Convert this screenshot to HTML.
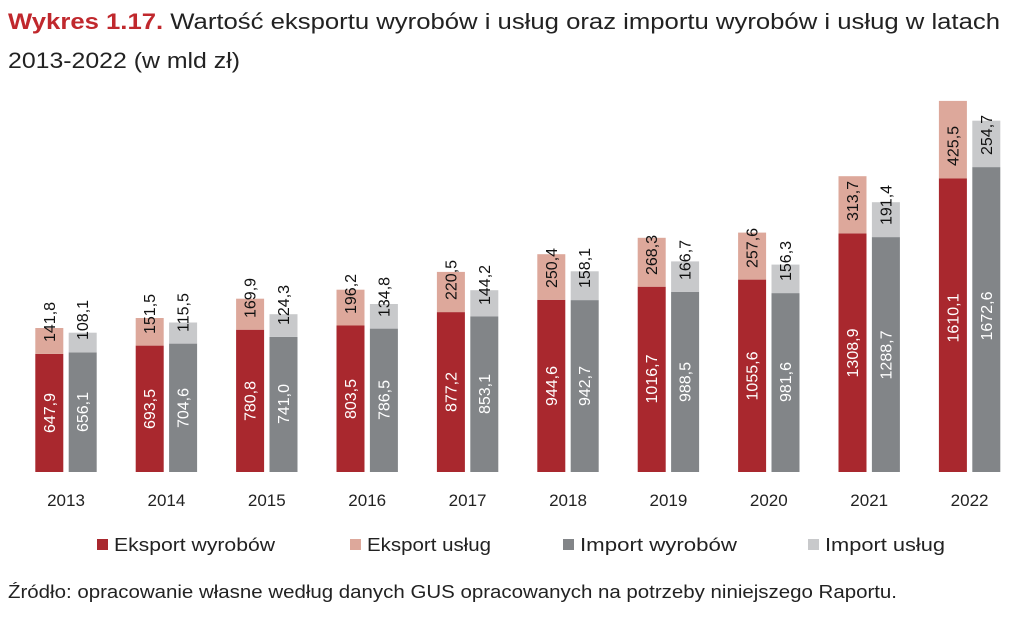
<!DOCTYPE html>
<html><head><meta charset="utf-8"><style>
body{margin:0;background:#fff;width:1024px;height:628px;overflow:hidden;font-family:"Liberation Sans",sans-serif}
.w{fill:#fff;font-size:16px;text-anchor:middle}
.k{fill:#111;font-size:16px;text-anchor:start}
.y{fill:#222;font-size:17px;text-anchor:middle}
</style></head><body>
<svg width="1024" height="628" xmlns="http://www.w3.org/2000/svg" font-family="Liberation Sans, sans-serif">
<text x="8" y="29" font-size="22" fill="#222" textLength="992" lengthAdjust="spacingAndGlyphs"><tspan fill="#C0282D" font-weight="bold">Wykres 1.17.</tspan> Wartość eksportu wyrobów i usług oraz importu wyrobów i usług w latach</text>
<text x="8" y="68" font-size="22" fill="#222" textLength="232" lengthAdjust="spacingAndGlyphs">2013-2022 (w mld zł)</text>

<rect x="35.3" y="353.9" width="28" height="118.1" fill="#A9282E"/><rect x="35.3" y="328.0" width="28" height="25.9" fill="#DDA89B"/>
<rect x="68.7" y="352.4" width="28" height="119.6" fill="#828588"/><rect x="68.7" y="332.7" width="28" height="19.7" fill="#C8C9CB"/>
<text class="w" transform="translate(54.8,413) rotate(-90)">647,9</text><text class="k" transform="translate(54.8,342) rotate(-90)">141,8</text>
<text class="w" transform="translate(88.2,412) rotate(-90)">656,1</text><text class="k" transform="translate(88.2,340) rotate(-90)">108,1</text>
<text class="y" x="66" y="506">2013</text>
<rect x="135.7" y="345.6" width="28" height="126.4" fill="#A9282E"/><rect x="135.7" y="318.0" width="28" height="27.6" fill="#DDA89B"/>
<rect x="169.1" y="343.6" width="28" height="128.4" fill="#828588"/><rect x="169.1" y="322.5" width="28" height="21.1" fill="#C8C9CB"/>
<text class="w" transform="translate(155.2,409) rotate(-90)">693,5</text><text class="k" transform="translate(155.2,334) rotate(-90)">151,5</text>
<text class="w" transform="translate(188.6,408) rotate(-90)">704,6</text><text class="k" transform="translate(188.6,332) rotate(-90)">115,5</text>
<text class="y" x="166.4" y="506">2014</text>
<rect x="236.1" y="329.7" width="28" height="142.3" fill="#A9282E"/><rect x="236.1" y="298.7" width="28" height="31.0" fill="#DDA89B"/>
<rect x="269.5" y="336.9" width="28" height="135.1" fill="#828588"/><rect x="269.5" y="314.2" width="28" height="22.7" fill="#C8C9CB"/>
<text class="w" transform="translate(255.6,401) rotate(-90)">780,8</text><text class="k" transform="translate(255.6,318) rotate(-90)">169,9</text>
<text class="w" transform="translate(289,404) rotate(-90)">741,0</text><text class="k" transform="translate(289,325) rotate(-90)">124,3</text>
<text class="y" x="266.8" y="506">2015</text>
<rect x="336.5" y="325.5" width="28" height="146.5" fill="#A9282E"/><rect x="336.5" y="289.7" width="28" height="35.8" fill="#DDA89B"/>
<rect x="369.9" y="328.6" width="28" height="143.4" fill="#828588"/><rect x="369.9" y="304.0" width="28" height="24.6" fill="#C8C9CB"/>
<text class="w" transform="translate(356,399) rotate(-90)">803,5</text><text class="k" transform="translate(356,314) rotate(-90)">196,2</text>
<text class="w" transform="translate(389.4,400) rotate(-90)">786,5</text><text class="k" transform="translate(389.4,317) rotate(-90)">134,8</text>
<text class="y" x="367.2" y="506">2016</text>
<rect x="436.9" y="312.1" width="28" height="159.9" fill="#A9282E"/><rect x="436.9" y="271.9" width="28" height="40.2" fill="#DDA89B"/>
<rect x="470.3" y="316.5" width="28" height="155.5" fill="#828588"/><rect x="470.3" y="290.2" width="28" height="26.3" fill="#C8C9CB"/>
<text class="w" transform="translate(456.4,392) rotate(-90)">877,2</text><text class="k" transform="translate(456.4,300) rotate(-90)">220,5</text>
<text class="w" transform="translate(489.8,394) rotate(-90)">853,1</text><text class="k" transform="translate(489.8,305) rotate(-90)">144,2</text>
<text class="y" x="467.6" y="506">2017</text>
<rect x="537.3" y="299.8" width="28" height="172.2" fill="#A9282E"/><rect x="537.3" y="254.2" width="28" height="45.6" fill="#DDA89B"/>
<rect x="570.7" y="300.1" width="28" height="171.9" fill="#828588"/><rect x="570.7" y="271.3" width="28" height="28.8" fill="#C8C9CB"/>
<text class="w" transform="translate(556.8,386) rotate(-90)">944,6</text><text class="k" transform="translate(556.8,288) rotate(-90)">250,4</text>
<text class="w" transform="translate(590.2,386) rotate(-90)">942,7</text><text class="k" transform="translate(590.2,288) rotate(-90)">158,1</text>
<text class="y" x="568" y="506">2018</text>
<rect x="637.7" y="286.7" width="28" height="185.3" fill="#A9282E"/><rect x="637.7" y="237.8" width="28" height="48.9" fill="#DDA89B"/>
<rect x="671.1" y="291.8" width="28" height="180.2" fill="#828588"/><rect x="671.1" y="261.4" width="28" height="30.4" fill="#C8C9CB"/>
<text class="w" transform="translate(657.2,379) rotate(-90)">1016,7</text><text class="k" transform="translate(657.2,275) rotate(-90)">268,3</text>
<text class="w" transform="translate(690.6,382) rotate(-90)">988,5</text><text class="k" transform="translate(690.6,280) rotate(-90)">166,7</text>
<text class="y" x="668.4" y="506">2019</text>
<rect x="738.1" y="279.6" width="28" height="192.4" fill="#A9282E"/><rect x="738.1" y="232.6" width="28" height="47.0" fill="#DDA89B"/>
<rect x="771.5" y="293.1" width="28" height="178.9" fill="#828588"/><rect x="771.5" y="264.6" width="28" height="28.5" fill="#C8C9CB"/>
<text class="w" transform="translate(757.6,376) rotate(-90)">1055,6</text><text class="k" transform="translate(757.6,268) rotate(-90)">257,6</text>
<text class="w" transform="translate(791,382) rotate(-90)">981,6</text><text class="k" transform="translate(791,281) rotate(-90)">156,3</text>
<text class="y" x="768.8" y="506">2020</text>
<rect x="838.5" y="233.4" width="28" height="238.6" fill="#A9282E"/><rect x="838.5" y="176.2" width="28" height="57.2" fill="#DDA89B"/>
<rect x="871.9" y="237.1" width="28" height="234.9" fill="#828588"/><rect x="871.9" y="202.2" width="28" height="34.9" fill="#C8C9CB"/>
<text class="w" transform="translate(858,353) rotate(-90)">1308,9</text><text class="k" transform="translate(858,221) rotate(-90)">313,7</text>
<text class="w" transform="translate(891.4,355) rotate(-90)">1288,7</text><text class="k" transform="translate(891.4,225) rotate(-90)">191,4</text>
<text class="y" x="869.2" y="506">2021</text>
<rect x="938.9" y="178.5" width="28" height="293.5" fill="#A9282E"/><rect x="938.9" y="100.9" width="28" height="77.6" fill="#DDA89B"/>
<rect x="972.3" y="167.1" width="28" height="304.9" fill="#828588"/><rect x="972.3" y="120.7" width="28" height="46.4" fill="#C8C9CB"/>
<text class="w" transform="translate(958.4,318) rotate(-90)">1610,1</text><text class="k" transform="translate(958.4,166) rotate(-90)">425,5</text>
<text class="w" transform="translate(991.8,316) rotate(-90)">1672,6</text><text class="k" transform="translate(991.8,155) rotate(-90)">254,7</text>
<text class="y" x="969.6" y="506">2022</text>

<g font-size="18" fill="#222">
<rect x="97" y="539" width="11" height="11" fill="#A9282E"/><text x="114" y="551" textLength="161" lengthAdjust="spacingAndGlyphs">Eksport wyrobów</text>
<rect x="350" y="539" width="11" height="11" fill="#DDA89B"/><text x="367" y="551" textLength="124" lengthAdjust="spacingAndGlyphs">Eksport usług</text>
<rect x="563" y="539" width="11" height="11" fill="#828588"/><text x="580" y="551" textLength="157" lengthAdjust="spacingAndGlyphs">Import wyrobów</text>
<rect x="808" y="539" width="11" height="11" fill="#C8C9CB"/><text x="825" y="551" textLength="120" lengthAdjust="spacingAndGlyphs">Import usług</text>
<text x="8" y="598" textLength="889" lengthAdjust="spacingAndGlyphs">Źródło: opracowanie własne według danych GUS opracowanych na potrzeby niniejszego Raportu.</text>
</g>
</svg>
</body></html>
